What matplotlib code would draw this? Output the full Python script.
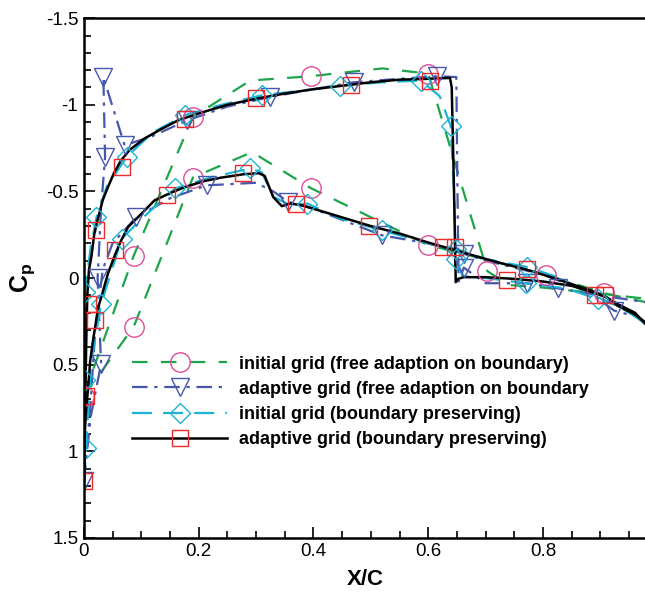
import matplotlib
matplotlib.use("Agg")
import matplotlib.pyplot as plt
from matplotlib.lines import Line2D
from matplotlib.ticker import MultipleLocator, FormatStrFormatter

plt.rcParams['font.family'] = ['Liberation Sans', 'DejaVu Sans']
plt.rcParams['axes.unicode_minus'] = False
plt.rcParams['mathtext.fontset'] = 'custom'
plt.rcParams['mathtext.rm'] = 'Liberation Sans'
plt.rcParams['mathtext.bf'] = 'Liberation Sans:bold'

# ---- data ----
labels = [
    "initial grid (free adaption on boundary)",
    "adaptive grid (free adaption on boundary",
    "initial grid (boundary preserving)",
    "adaptive grid (boundary preserving)",
]

# initial grid, free adaption (green dashed, circles)
ig_free_up_x = [0.0, 0.087, 0.19, 0.29, 0.395, 0.52, 0.60, 0.703, 0.74, 0.80, 0.90, 0.98]
ig_free_up_cp = [0.68, -0.13, -0.93, -1.14, -1.165, -1.21, -1.18, -0.04, 0.04, 0.055, 0.09, 0.12]
ig_free_lo_x = [0.0, 0.087, 0.19, 0.293, 0.395, 0.60, 0.805, 0.907, 0.98]
ig_free_lo_cp = [0.68, 0.28, -0.58, -0.727, -0.52, -0.19, -0.02, 0.088, 0.14]
ig_free_sym_x = [0.0, 0.087, 0.19, 0.395, 0.60, 0.703, 0.087, 0.19, 0.395, 0.60, 0.805, 0.907]
ig_free_sym_cp = [0.68, -0.13, -0.93, -1.165, -1.18, -0.04, 0.28, -0.58, -0.52, -0.19, -0.02, 0.088]

# adaptive grid, free adaption (blue dash-dot, triangles)
ag_free_up_x = [0.0, 0.012, 0.030, 0.024, 0.030, 0.037, 0.034, 0.071, 0.12, 0.18, 0.25, 0.325,
                0.40, 0.47, 0.55, 0.616, 0.649, 0.651, 0.653, 0.662, 0.70, 0.773, 0.826, 0.90, 0.98]
ag_free_up_cp = [1.17, 0.80, 0.495, 0.0, -0.40, -0.70, -1.16, -0.766, -0.82, -0.91, -0.99, -1.045,
                 -1.09, -1.13, -1.15, -1.165, -1.16, -0.50, 0.02, -0.06, 0.03, 0.03, 0.06, 0.10, 0.14]
ag_free_lo_x = [0.0, 0.010, 0.020, 0.033, 0.05, 0.091, 0.15, 0.214, 0.30, 0.33, 0.356, 0.40,
                0.52, 0.60, 0.662, 0.70, 0.80, 0.88, 0.924, 0.96]
ag_free_lo_cp = [1.17, 0.80, 0.30, -0.05, -0.20, -0.35, -0.46, -0.535, -0.55, -0.50, -0.44, -0.40,
                 -0.246, -0.20, -0.14, -0.10, -0.02, 0.08, 0.188, 0.22]
ag_free_sym_x = [0.0, 0.030, 0.024, 0.037, 0.034, 0.071, 0.18, 0.325, 0.47, 0.616, 0.662, 0.773, 0.826,
                 0.091, 0.214, 0.356, 0.52, 0.662, 0.924]
ag_free_sym_cp = [1.17, 0.495, 0.0, -0.70, -1.16, -0.766, -0.91, -1.045, -1.13, -1.165, -0.06, 0.03, 0.06,
                  -0.35, -0.535, -0.44, -0.246, -0.14, 0.188]

# initial grid, boundary preserving (cyan dashed, diamonds)
ig_bp_up_x = [0.0, 0.004, 0.002, 0.002, 0.012, 0.022, 0.040, 0.075, 0.12, 0.176, 0.24, 0.31,
              0.40, 0.447, 0.52, 0.587, 0.62, 0.639, 0.645, 0.648, 0.66, 0.70, 0.77, 0.84, 0.895, 0.94, 0.98]
ig_bp_up_cp = [1.18, 0.98, 0.59, 0.08, -0.18, -0.35, -0.53, -0.70, -0.84, -0.94, -1.00, -1.055,
               -1.09, -1.11, -1.13, -1.14, -1.05, -0.88, -0.50, -0.11, -0.01, 0.0, 0.03, 0.06, 0.12, 0.17, 0.27]
ig_bp_lo_x = [0.0, 0.004, 0.012, 0.030, 0.066, 0.10, 0.159, 0.22, 0.29, 0.31, 0.33, 0.36, 0.389,
              0.45, 0.52, 0.60, 0.648, 0.70, 0.773, 0.83, 0.88, 0.93, 0.98]
ig_bp_lo_cp = [1.18, 0.98, 0.50, 0.15, -0.227, -0.34, -0.517, -0.58, -0.633, -0.61, -0.47, -0.42, -0.43,
               -0.34, -0.275, -0.20, -0.169, -0.11, -0.063, 0.0, 0.09, 0.16, 0.26]
ig_bp_sym_x = [0.004, 0.002, 0.002, 0.022, 0.075, 0.176, 0.31, 0.447, 0.587, 0.639, 0.648, 0.77, 0.895,
               0.030, 0.066, 0.159, 0.29, 0.389, 0.52, 0.648, 0.773]
ig_bp_sym_cp = [0.98, 0.59, 0.08, -0.35, -0.70, -0.94, -1.055, -1.11, -1.14, -0.88, -0.11, 0.03, 0.12,
                0.15, -0.227, -0.517, -0.633, -0.43, -0.275, -0.169, -0.063]

# adaptive grid, boundary preserving (black solid, squares)
ag_bp_up_x = [0.0, 0.002, 0.004, 0.006, 0.009, 0.013, 0.018, 0.025, 0.033, 0.042, 0.053, 0.065, 0.08,
              0.106, 0.135, 0.164, 0.20, 0.25, 0.30, 0.35, 0.40, 0.45, 0.50, 0.55, 0.60, 0.638, 0.641,
              0.645, 0.648, 0.652, 0.662, 0.70, 0.75, 0.80, 0.85, 0.884, 0.91, 0.93, 0.96, 0.98]
ag_bp_up_cp = [1.18, 0.80, 0.40, 0.10, -0.05, -0.12, -0.25, -0.35, -0.45, -0.525, -0.61, -0.68, -0.74,
               -0.806, -0.86, -0.91, -0.95, -1.00, -1.035, -1.065, -1.09, -1.11, -1.13, -1.145, -1.15, -1.155, -1.10,
               -0.50, 0.024, 0.005, -0.005, -0.005, 0.005, 0.02, 0.045, 0.08, 0.11, 0.15, 0.20, 0.27]
ag_bp_lo_x = [0.0, 0.001, 0.003, 0.007, 0.011, 0.016, 0.025, 0.033, 0.042, 0.055, 0.065, 0.077, 0.10,
              0.123, 0.15, 0.176, 0.21, 0.24, 0.28, 0.305, 0.315, 0.33, 0.345, 0.36, 0.38, 0.40, 0.45,
              0.50, 0.552, 0.60, 0.645, 0.70, 0.727, 0.77, 0.814, 0.85, 0.884, 0.91, 0.93, 0.96, 0.98]
ag_bp_lo_cp = [1.18, 0.94, 0.80, 0.65, 0.48, 0.36, 0.17, 0.08, -0.026, -0.14, -0.217, -0.294, -0.37,
               -0.448, -0.49, -0.525, -0.56, -0.58, -0.60, -0.605, -0.59, -0.467, -0.415, -0.43, -0.42, -0.40, -0.35,
               -0.30, -0.255, -0.205, -0.163, -0.11, -0.086, -0.05, -0.005, 0.035, 0.072, 0.11, 0.16, 0.21, 0.26]
ag_bp_sym_x = [0.0, 0.004, 0.007, 0.022, 0.066, 0.176, 0.30, 0.465, 0.603, 0.738, 0.89,
               0.019, 0.054, 0.145, 0.278, 0.37, 0.496, 0.626, 0.646, 0.773, 0.908]
ag_bp_sym_cp = [1.17, 0.68, 0.15, -0.275, -0.64, -0.916, -1.04, -1.117, -1.14, 0.01, 0.10,
                0.245, -0.16, -0.477, -0.606, -0.43, -0.298, -0.178, -0.178, -0.05, 0.10]

# ---- styles ----
green = '#1ea54c'
magenta = '#dc4f98'
navy = '#4657ac'
cyan = '#1bb4d6'
red = '#ee2b2b'

green_ls = (0, (7, 6))
navy_ls = (0, (7, 3, 1.5, 3))
cyan_ls = (0, (9, 5))

fig = plt.figure(figsize=(6.45, 5.96), dpi=100)
ax = fig.add_axes([0.130, 0.0975, 0.872, 0.872])

ax.plot(ig_free_up_x, ig_free_up_cp, color=green, ls=green_ls, lw=1.6)
ax.plot(ig_free_lo_x, ig_free_lo_cp, color=green, ls=green_ls, lw=1.6)
ax.plot(ag_free_up_x, ag_free_up_cp, color=navy, ls=navy_ls, lw=1.6)
ax.plot(ag_free_lo_x, ag_free_lo_cp, color=navy, ls=navy_ls, lw=1.6)
ax.plot(ig_bp_up_x, ig_bp_up_cp, color=cyan, ls=cyan_ls, lw=1.6)
ax.plot(ig_bp_lo_x, ig_bp_lo_cp, color=cyan, ls=cyan_ls, lw=1.6)
ax.plot(ag_bp_up_x, ag_bp_up_cp, color='black', ls='-', lw=1.8)
ax.plot(ag_bp_lo_x, ag_bp_lo_cp, color='black', ls='-', lw=1.8)

ax.plot(ig_free_sym_x, ig_free_sym_cp, ls='none', marker='o', ms=14, mfc='none', mec=magenta, mew=1.0)
ax.plot(ag_free_sym_x, ag_free_sym_cp, ls='none', marker='v', ms=13, mfc='none', mec=navy, mew=1.0)
ax.plot(ig_bp_sym_x, ig_bp_sym_cp, ls='none', marker='D', ms=10, mfc='none', mec=cyan, mew=1.0)
ax.plot(ag_bp_sym_x, ag_bp_sym_cp, ls='none', marker='s', ms=11, mfc='none', mec=red, mew=1.0)

handles = [
    Line2D([], [], color=green, ls=green_ls, lw=1.6, marker='o', ms=14, mfc='none', mec=magenta, mew=1.0),
    Line2D([], [], color=navy, ls=navy_ls, lw=1.6, marker='v', ms=13, mfc='none', mec=navy, mew=1.0),
    Line2D([], [], color=cyan, ls=cyan_ls, lw=1.6, marker='D', ms=10, mfc='none', mec=cyan, mew=1.0),
    Line2D([], [], color='black', ls='-', lw=1.8, marker='s', ms=11, mfc='none', mec=red, mew=1.0),
]
ax.legend(handles, labels, loc='upper left', bbox_to_anchor=(0.069, 0.368), frameon=False,
          numpoints=1, handlelength=5.3, handletextpad=0.65, labelspacing=0.45,
          borderpad=0, prop={'weight': 'bold', 'size': 13})

ax.set_xlim(0, 0.98)
ax.set_ylim(1.5, -1.5)
ax.xaxis.set_major_locator(MultipleLocator(0.2))
ax.xaxis.set_minor_locator(MultipleLocator(0.05))
ax.yaxis.set_major_locator(MultipleLocator(0.5))
ax.yaxis.set_minor_locator(MultipleLocator(0.1))
ax.xaxis.set_major_formatter(FormatStrFormatter('%g'))
ax.yaxis.set_major_formatter(FormatStrFormatter('%g'))
ax.tick_params(which='both', direction='in', top=False, right=False, width=1.2, labelsize=13.5, pad=4)
ax.tick_params(which='major', length=8)
ax.tick_params(which='minor', length=5)
for s in ['left', 'bottom', 'top']:
    ax.spines[s].set_linewidth(1.8)
ax.spines['right'].set_visible(False)

ax.set_xlabel('X/C', fontsize=16, fontweight='bold', labelpad=6)
ax.set_ylabel(r'$\mathbf{C}_\mathbf{p}$', fontsize=18, labelpad=6)

fig.savefig('out.png', dpi=100)
